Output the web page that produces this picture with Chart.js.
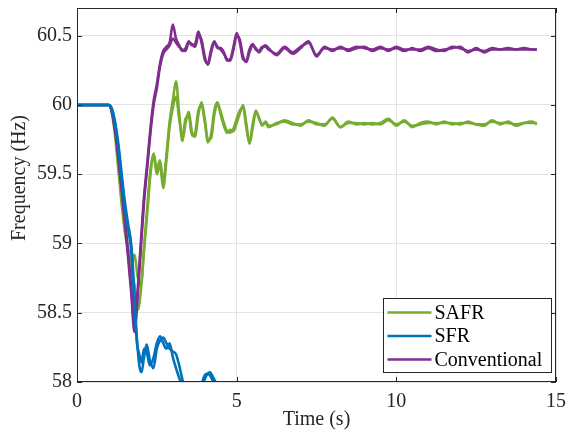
<!DOCTYPE html>
<html>
<head>
<meta charset="utf-8">
<script src="https://cdn.jsdelivr.net/npm/chart.js@4.4.1/dist/chart.umd.min.js"></script>
<style>
  html, body { margin: 0; padding: 0; background: #fff; }
  #c { display: block; }
</style>
</head>
<body>
<canvas id="c" width="572" height="436"></canvas>
<script>
// legend / series
var seriesNames = ['SAFR', 'SFR', 'Conventional'];
var seriesColors = ['#77AC30', '#0072BD', '#7E2F8E'];

// axis ticks
var xTicks = [0, 5, 10, 15];
var yTicks = [58, 58.5, 59, 59.5, 60, 60.5];

// time grid shared by SAFR and Conventional runs (s)
var tMain = [0, 1.0, 1.1, 1.2, 1.3, 1.4, 1.5, 1.6, 1.7, 1.8, 1.9,
  2.0, 2.1, 2.2, 2.3, 2.4, 2.5, 2.6, 2.7, 2.8, 2.9,
  3.0, 3.1, 3.2, 3.3, 3.4, 3.5, 3.6, 3.7, 3.8, 3.9,
  4.0, 4.1, 4.2, 4.3, 4.4, 4.5, 4.6, 4.7, 4.8, 4.9,
  5.0, 5.1, 5.2, 5.3, 5.4, 5.5, 5.6, 5.7, 5.8, 5.9, 6.0,
  6.25, 6.5, 6.75, 7.0, 7.25, 7.5, 7.75, 8.0, 8.25, 8.5, 8.75,
  9.0, 9.25, 9.5, 9.75, 10.0, 10.25, 10.5, 10.75, 11.0, 11.25, 11.5, 11.75,
  12.0, 12.25, 12.5, 12.75, 13.0, 13.25, 13.5, 13.75, 14.0, 14.25, 14.4];

// SAFR runs (Hz)
var safrA = [60, 60, 59.93, 59.76, 59.52, 59.28, 59.08, 58.94, 58.8, 58.7, 58.52,
  58.66, 58.95, 59.22, 59.5, 59.63, 59.5, 59.57, 59.4, 59.6, 59.84,
  59.98, 60.06, 59.9, 59.77, 59.9, 59.92, 59.78, 59.8, 59.96, 60.0,
  59.88, 59.75, 59.76, 59.93, 60.0, 59.95, 59.87, 59.81, 59.8, 59.83,
  59.9, 59.96, 59.98, 59.84, 59.73, 59.86, 59.96, 59.9, 59.86, 59.87, 59.84,
  59.87, 59.88, 59.86, 59.86, 59.88, 59.87, 59.85, 59.91, 59.84, 59.88, 59.86,
  59.87, 59.86, 59.87, 59.9, 59.85, 59.89, 59.84, 59.87, 59.88, 59.86, 59.88, 59.86,
  59.87, 59.87, 59.86, 59.85, 59.89, 59.86, 59.88, 59.85, 59.87, 59.88, 59.86];
var safrB = [60, 60, 59.95, 59.79, 59.56, 59.32, 59.12, 58.97, 58.85, 58.92, 58.76,
  58.7, 58.98, 59.26, 59.53, 59.65, 59.54, 59.6, 59.44, 59.64, 59.88,
  60.03, 60.17, 59.94, 59.74, 59.87, 59.95, 59.8, 59.77, 59.93, 60.02,
  59.9, 59.73, 59.79, 59.96, 60.02, 59.93, 59.85, 59.8, 59.82, 59.81,
  59.87, 59.94, 60.0, 59.87, 59.72, 59.83, 59.95, 59.91, 59.85, 59.88, 59.85,
  59.86, 59.89, 59.87, 59.85, 59.89, 59.86, 59.86, 59.9, 59.84, 59.87, 59.87,
  59.86, 59.87, 59.86, 59.89, 59.86, 59.88, 59.85, 59.86, 59.87, 59.87, 59.87, 59.87,
  59.86, 59.88, 59.86, 59.86, 59.88, 59.87, 59.87, 59.86, 59.87, 59.87, 59.87];

// Conventional runs (Hz)
var convA = [60, 60, 59.94, 59.8, 59.6, 59.38, 59.15, 58.9, 58.64, 58.36, 58.62,
  58.97, 59.3, 59.55, 59.8, 60.0, 60.12, 60.28, 60.37, 60.4, 60.43,
  60.48, 60.45, 60.42, 60.4, 60.39, 60.45, 60.44, 60.42, 60.5, 60.47,
  60.35, 60.29, 60.38, 60.45, 60.42, 60.4, 60.37, 60.33, 60.32, 60.4,
  60.5, 60.47, 60.35, 60.31, 60.38, 60.43, 60.41, 60.38, 60.41, 60.43, 60.41,
  60.36, 60.41, 60.37, 60.41, 60.46, 60.35, 60.42, 60.39, 60.42, 60.39, 60.41,
  60.42, 60.39, 60.41, 60.4, 60.41, 60.39, 60.41, 60.39, 60.41, 60.39, 60.4, 60.41,
  60.42, 60.38, 60.41, 60.38, 60.4, 60.4, 60.4, 60.4, 60.4, 60.4, 60.4];
var convB = [60, 60, 59.95, 59.82, 59.63, 59.4, 59.18, 58.93, 58.68, 58.4, 58.66,
  59.01, 59.34, 59.58, 59.83, 60.03, 60.15, 60.3, 60.39, 60.42, 60.45,
  60.58, 60.48, 60.43, 60.39, 60.41, 60.46, 60.43, 60.44, 60.53, 60.45,
  60.33, 60.3, 60.4, 60.46, 60.41, 60.41, 60.38, 60.32, 60.33, 60.42,
  60.52, 60.45, 60.33, 60.32, 60.4, 60.44, 60.4, 60.39, 60.42, 60.42, 60.4,
  60.37, 60.42, 60.38, 60.42, 60.45, 60.36, 60.41, 60.4, 60.41, 60.4, 60.42,
  60.41, 60.4, 60.42, 60.39, 60.42, 60.4, 60.4, 60.4, 60.42, 60.4, 60.39, 60.42,
  60.41, 60.39, 60.4, 60.39, 60.41, 60.4, 60.41, 60.4, 60.41, 60.4, 60.4];

// SFR runs: own time grid, they leave the axis below 58 Hz
var tSfr = [0, 1.0, 1.1, 1.2, 1.3, 1.4, 1.5, 1.6, 1.7, 1.8, 1.87, 1.95, 2.02, 2.1, 2.18,
  2.28, 2.39, 2.5, 2.6, 2.7, 2.8, 2.9, 3.0, 3.1, 3.2, 3.28, 3.35, 3.5, 3.7,
  3.85, 3.95, 4.06, 4.16, 4.27, 4.38, 4.5, 4.7];
var sfrA = [60, 60, 59.96, 59.85, 59.68, 59.46, 59.26, 59.1, 58.95, 58.56, 58.33, 58.12, 58.07, 58.18, 58.27,
  58.16, 58.1, 58.24, 58.3, 58.32, 58.28, 58.24, 58.22, 58.2, 58.12, 58.04, 57.97, 57.88, 57.84,
  57.92, 57.99, 58.05, 58.07, 58.03, 57.98, 57.9, 57.8];
var sfrB = [60, 60, 59.97, 59.87, 59.71, 59.5, 59.3, 59.14, 58.99, 58.62, 58.3, 58.2, 58.14, 58.24, 58.22,
  58.12, 58.17, 58.28, 58.33, 58.28, 58.24, 58.28, 58.18, 58.1, 58.03, 57.98, 57.92, 57.85, 57.83,
  57.9, 58.02, 58.06, 58.05, 58.0, 57.95, 57.88, 57.8];

var axisColor = '#262626';
var serif = "'Liberation Serif', 'Times New Roman', serif";

function pts(t, v) {
    return t.map(function(x, i) { return {x: x, y: v[i]}; });
}

function run(label, t, v, color, order) {
    return {
        label: label,
        data: pts(t, v),
        borderColor: color,
        borderWidth: 2.6,
        pointRadius: 0,
        fill: false,
        cubicInterpolationMode: 'monotone',
        clip: 0,
        order: order
    };
}

// no extra room for half tick labels, the plot box is fixed
function noPad(scale) {
    scale.paddingTop = 0;
    scale.paddingBottom = 0;
    scale.paddingLeft = 0;
    scale.paddingRight = 0;
}

// draws the axes box, inward ticks, y label and legend like the matlab figure
var framePlugin = {
    id: 'frame',
    afterDraw: function(chart) {
        var ctx = chart.ctx;
        var a = chart.chartArea;
        var xs = chart.scales.x, ys = chart.scales.y;
        var tl = 5;
        ctx.save();
        ctx.strokeStyle = axisColor;
        ctx.lineWidth = 1;
        ctx.strokeRect(Math.round(a.left) + 0.5, Math.round(a.top) + 0.5,
            Math.round(a.right - a.left) - 1, Math.round(a.bottom - a.top) - 1);
        ctx.beginPath();
        xTicks.forEach(function(v) {
            var px = Math.round(xs.getPixelForValue(v)) + 0.5;
            ctx.moveTo(px, a.bottom); ctx.lineTo(px, a.bottom - tl);
            ctx.moveTo(px, a.top); ctx.lineTo(px, a.top + tl);
        });
        yTicks.forEach(function(v) {
            var py = Math.round(ys.getPixelForValue(v)) + 0.5;
            ctx.moveTo(a.left, py); ctx.lineTo(a.left + tl, py);
            ctx.moveTo(a.right, py); ctx.lineTo(a.right - tl, py);
        });
        ctx.stroke();

        // y axis title
        ctx.save();
        ctx.translate(20, 178);
        ctx.rotate(-Math.PI / 2);
        ctx.font = '20px ' + serif;
        ctx.fillStyle = axisColor;
        ctx.textAlign = 'center';
        ctx.textBaseline = 'middle';
        ctx.fillText('Frequency (Hz)', 0, 0);
        ctx.restore();

        // legend
        var lx = 383.5, ly = 298.5, lw = 168, lh = 74;
        ctx.fillStyle = '#ffffff';
        ctx.fillRect(lx, ly, lw, lh);
        ctx.strokeStyle = axisColor;
        ctx.strokeRect(lx, ly, lw, lh);
        ctx.font = '20px ' + serif;
        ctx.textBaseline = 'middle';
        ctx.textAlign = 'left';
        seriesNames.forEach(function(name, i) {
            var y = ly + 14 + i * 23.5;
            ctx.strokeStyle = seriesColors[i];
            ctx.lineWidth = 2.5;
            ctx.beginPath();
            ctx.moveTo(lx + 4, y); ctx.lineTo(lx + 48, y);
            ctx.stroke();
            ctx.fillStyle = '#000';
            ctx.fillText(name, lx + 51, y + 1);
        });
        ctx.restore();
    }
};

new Chart(document.getElementById('c').getContext('2d'), {
    type: 'line',
    data: {
        datasets: [
            run(seriesNames[0], tMain, safrA, seriesColors[0], 5),
            run(seriesNames[0], tMain, safrB, seriesColors[0], 4),
            run(seriesNames[1], tSfr, sfrA, seriesColors[1], 1),
            run(seriesNames[1], tSfr, sfrB, seriesColors[1], 0),
            run(seriesNames[2], tMain, convA, seriesColors[2], 3),
            run(seriesNames[2], tMain, convB, seriesColors[2], 2)
        ]
    },
    options: {
        responsive: false,
        animation: false,
        layout: {autoPadding: false, padding: {top: 8, right: 16, left: 0, bottom: 0}},
        plugins: {
            legend: {display: false},
            tooltip: {enabled: false}
        },
        scales: {
            x: {
                type: 'linear',
                min: 0,
                max: 15,
                afterFit: function(scale) { scale.height = 54; noPad(scale); },
                afterBuildTicks: function(scale) {
                    scale.ticks = xTicks.map(function(v) { return {value: v}; });
                },
                grid: {color: '#e3e3e3', drawTicks: false},
                border: {display: false},
                ticks: {
                    padding: 8,
                    color: axisColor,
                    font: {family: serif, size: 20},
                    maxRotation: 0,
                    callback: function(v) { return String(v); }
                },
                title: {
                    display: true,
                    text: 'Time (s)',
                    color: axisColor,
                    font: {family: serif, size: 20},
                    padding: {top: 0, bottom: 4}
                }
            },
            y: {
                min: 58,
                max: 60.7,
                afterFit: function(scale) { scale.width = 77; noPad(scale); },
                afterBuildTicks: function(scale) {
                    scale.ticks = yTicks.map(function(v) { return {value: v}; });
                },
                grid: {color: '#e3e3e3', drawTicks: false},
                border: {display: false},
                ticks: {
                    padding: 5,
                    color: axisColor,
                    font: {family: serif, size: 20},
                    callback: function(v) { return String(v); }
                }
            }
        }
    },
    plugins: [framePlugin]
});
</script>
</body>
</html>
